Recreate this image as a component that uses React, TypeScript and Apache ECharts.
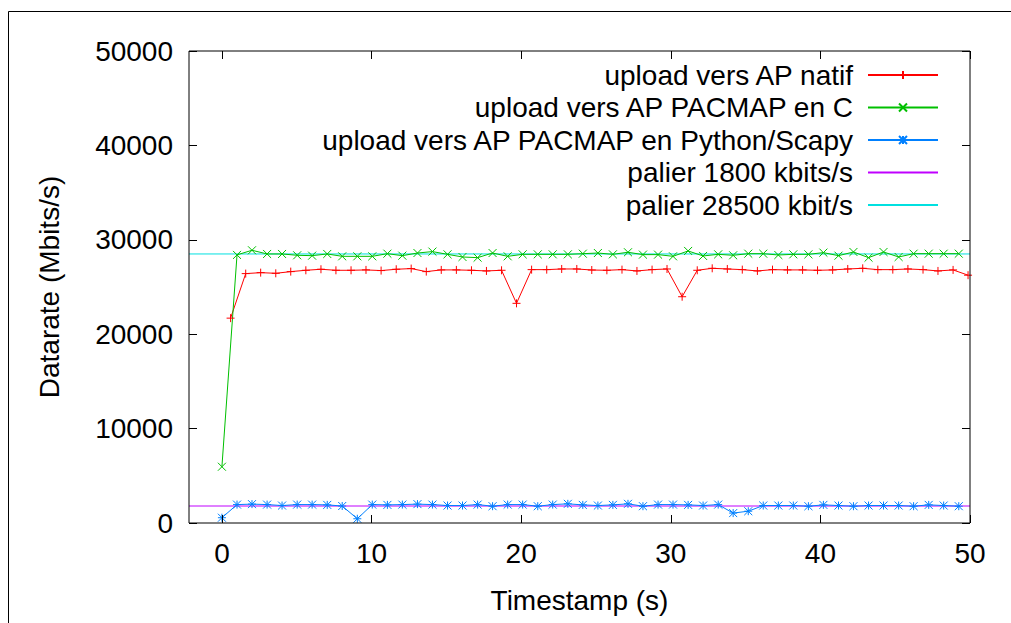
import React, { useEffect, useRef } from "react";
import * as echarts from "echarts";

const xTickValues = [0, 10, 20, 30, 40, 50];
const xMin = -2.2;
const xMax = 50;

const redX = [0.58, 1.59, 2.59, 3.6, 4.6, 5.61, 6.62, 7.62, 8.63, 9.63, 10.64, 11.65, 12.65, 13.66, 14.66, 15.67, 16.68, 17.68, 18.69, 19.69, 20.7, 21.71, 22.71, 23.72, 24.72, 25.73, 26.74, 27.74, 28.75, 29.75, 30.76, 31.77, 32.77, 33.78, 34.78, 35.79, 36.8, 37.8, 38.81, 39.81, 40.82, 41.83, 42.83, 43.84, 44.84, 45.85, 46.86, 47.86, 48.87, 49.87];
const redY = [21700, 26420, 26520, 26450, 26630, 26770, 26880, 26770, 26770, 26810, 26740, 26880, 26950, 26630, 26810, 26810, 26770, 26700, 26770, 23270, 26840, 26840, 26910, 26910, 26800, 26770, 26840, 26700, 26840, 26910, 23970, 26770, 26980, 26910, 26840, 26700, 26840, 26810, 26810, 26770, 26810, 26910, 26980, 26840, 26840, 26910, 26840, 26700, 26810, 26250];

const gbX = [0, 1.01, 2.01, 3.02, 4.02, 5.03, 6.03, 7.04, 8.04, 9.05, 10.05, 11.06, 12.06, 13.07, 14.07, 15.08, 16.08, 17.09, 18.09, 19.1, 20.1, 21.11, 22.11, 23.12, 24.12, 25.13, 26.13, 27.14, 28.14, 29.15, 30.15, 31.16, 32.16, 33.17, 34.17, 35.18, 36.18, 37.19, 38.19, 39.2, 40.2, 41.21, 42.21, 43.22, 44.22, 45.23, 46.23, 47.24, 48.24, 49.25];
const greenY = [5960, 28400, 28890, 28500, 28500, 28360, 28320, 28500, 28250, 28250, 28250, 28530, 28320, 28600, 28750, 28460, 28180, 28110, 28600, 28250, 28460, 28460, 28460, 28460, 28530, 28600, 28460, 28680, 28430, 28430, 28250, 28820, 28290, 28460, 28360, 28530, 28530, 28390, 28460, 28460, 28640, 28320, 28710, 28110, 28710, 28180, 28530, 28530, 28530, 28530];
const blueY = [560, 1950, 2000, 1950, 1850, 1950, 1950, 1920, 1800, 450, 1950, 1920, 1950, 2000, 1950, 1850, 1850, 1950, 1780, 1950, 1950, 1780, 1950, 2030, 1920, 1850, 1920, 2030, 1780, 1950, 1950, 1920, 1850, 1950, 1050, 1250, 1850, 1850, 1850, 1780, 1920, 1850, 1780, 1850, 1850, 1850, 1780, 1920, 1850, 1780];

const palier1 = 1800;
const palier2 = 28500;

const seriesNames = [
  "upload vers AP natif",
  "upload vers AP PACMAP en C",
  "upload vers AP PACMAP en Python/Scapy",
  "palier 1800 kbits/s",
  "palier 28500 kbit/s",
];
const colors = ["#ff0000", "#00c000", "#0080ff", "#c000ff", "#00e0e0"];

const FONT = "'Liberation Sans', Arial, sans-serif";
const FS = 28;

const plusPath = "path://M0,4L8,4M4,0L4,8";
const crossPath = "path://M0,0L8,8M8,0L0,8";
const starPath = "path://M0,0L8,8M8,0L0,8M0,4L8,4M4,0L4,8";

function zip(xs: number[], ys: number[]) {
  return xs.map((x, i) => [x, ys[i]]);
}

export default function App() {
  const ref = useRef<HTMLDivElement>(null);
  useEffect(() => {
    if (!ref.current) return;
    const chart = echarts.init(ref.current, null, { renderer: "svg" });
    const pointSeries = (name: string, color: string, symbol: string, data: number[][]) => ({
      name,
      type: "line",
      data,
      symbol,
      symbolSize: 8,
      showSymbol: true,
      lineStyle: { color, width: 1 },
      itemStyle: { color, borderColor: color, borderWidth: 1 },
      emphasis: { disabled: true },
      z: 3,
    });
    const flatSeries = (name: string, color: string, v: number) => ({
      name,
      type: "line",
      data: [[xMin, v], [xMax, v]],
      symbol: "circle",
      showSymbol: false,
      lineStyle: { color, width: 1 },
      itemStyle: { color: "transparent", borderWidth: 0 },
      emphasis: { disabled: true },
      z: 2,
    });
    const tickCommon = {
      show: true,
      inside: true,
      length: 8,
      lineStyle: { color: "#000", width: 1 },
    };
    chart.setOption({
      animation: false,
      backgroundColor: "#fff",
      textStyle: { fontFamily: FONT },
      grid: {
        left: 189,
        top: 51,
        right: 41,
        bottom: 100,
        show: true,
        borderColor: "#000",
        borderWidth: 1,
        backgroundColor: "transparent",
        z: 10,
      },
      legend: {
        orient: "vertical",
        right: 72,
        top: 61,
        padding: 0,
        align: "right",
        itemWidth: 70,
        itemHeight: 10,
        itemGap: 4.5,
        textStyle: { fontSize: FS, fontFamily: FONT, color: "#000", padding: [0, 10, 0, 0] },
        data: seriesNames,
        selectedMode: false,
      },
      xAxis: [
        {
          type: "value",
          min: xMin,
          max: xMax,
          position: "bottom",
          name: "Timestamp (s)",
          nameLocation: "middle",
          nameGap: 63,
          nameTextStyle: { fontSize: FS, color: "#000", fontFamily: FONT },
          axisLine: { show: false, onZero: false },
          axisTick: { ...tickCommon, customValues: xTickValues },
          axisLabel: { customValues: xTickValues, fontSize: FS, color: "#000", margin: 16, fontFamily: FONT },
          splitLine: { show: false },
          z: 5,
        },
        {
          type: "value",
          min: xMin,
          max: xMax,
          position: "top",
          axisLine: { show: false, onZero: false },
          axisTick: { ...tickCommon, customValues: xTickValues },
          axisLabel: { show: false },
          splitLine: { show: false },
          z: 5,
        },
      ],
      yAxis: [
        {
          type: "value",
          min: 0,
          max: 50000,
          interval: 10000,
          position: "left",
          name: "Datarate (Mbits/s)",
          nameLocation: "middle",
          nameGap: 126,
          nameTextStyle: { fontSize: FS, color: "#000", fontFamily: FONT },
          axisLine: { show: false, onZero: false },
          axisTick: tickCommon,
          axisLabel: {
            fontSize: FS,
            color: "#000",
            margin: 16,
            fontFamily: FONT,
            formatter: (v: number) => String(v),
          },
          splitLine: { show: false },
          z: 5,
        },
        {
          type: "value",
          min: 0,
          max: 50000,
          interval: 10000,
          position: "right",
          axisLine: { show: false, onZero: false },
          axisTick: tickCommon,
          axisLabel: { show: false },
          splitLine: { show: false },
          z: 5,
        },
      ],
      graphic: [
        {
          type: "polyline",
          shape: { points: [[8.5, 623], [8.5, 11.5], [1011, 11.5]] },
          style: { stroke: "#000", lineWidth: 1, fill: null },
          silent: true,
        },
      ],
      series: [
        pointSeries(seriesNames[0], colors[0], plusPath, zip(redX, redY)),
        pointSeries(seriesNames[1], colors[1], crossPath, zip(gbX, greenY)),
        pointSeries(seriesNames[2], colors[2], starPath, zip(gbX, blueY)),
        flatSeries(seriesNames[3], colors[3], palier1),
        flatSeries(seriesNames[4], colors[4], palier2),
      ],
    });
    return () => chart.dispose();
  }, []);
  return (
    <div
      ref={ref}
      style={{ position: "fixed", left: 0, top: 0, width: 1011, height: 623, background: "#fff" }}
    />
  );
}
